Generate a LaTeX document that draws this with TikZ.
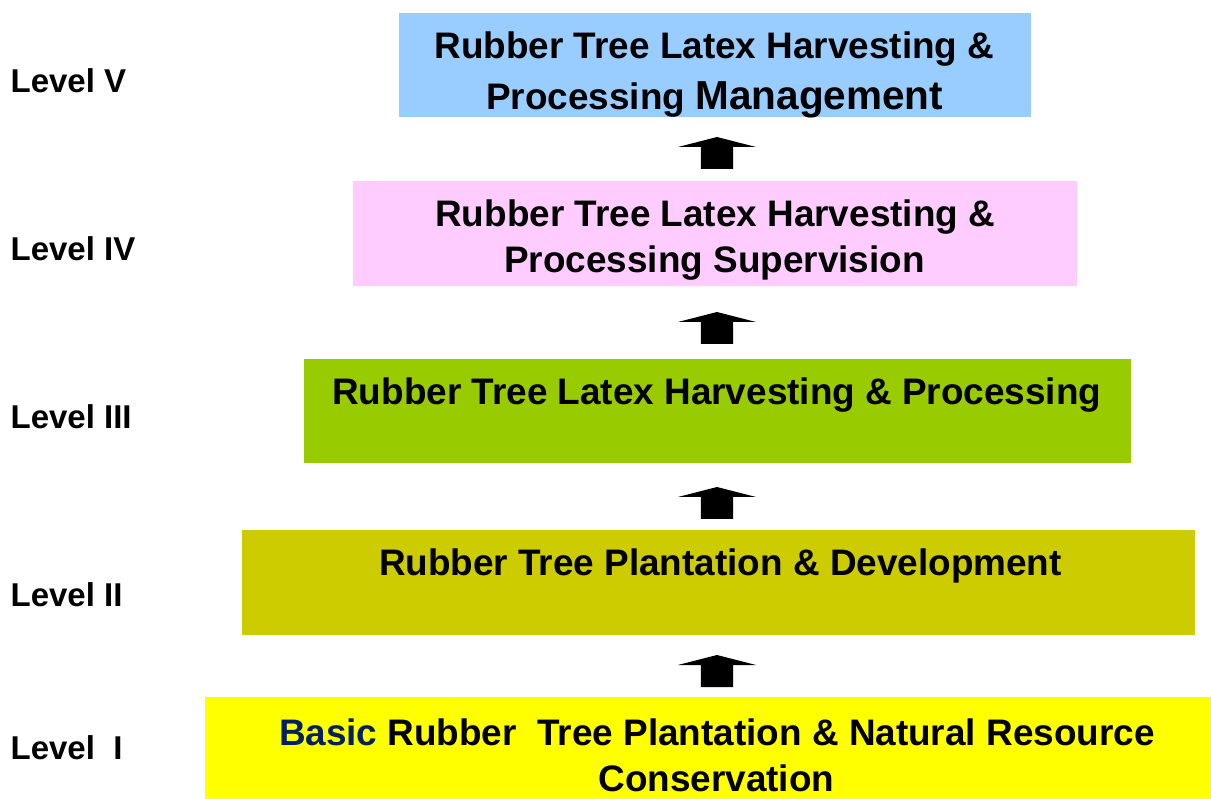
\documentclass[tikz,border=0pt]{standalone}
\usepackage{fontspec}
\setmainfont{Liberation Sans}
\definecolor{lvfive}{HTML}{99CCFF}
\definecolor{lvfour}{HTML}{FFCCFF}
\definecolor{lvthree}{HTML}{99CC00}
\definecolor{lvtwo}{HTML}{CCCC00}
\definecolor{lvone}{HTML}{FFFF00}
\definecolor{basicblue}{RGB}{0,32,96}
\begin{document}
\begin{tikzpicture}[x=1pt,y=-1pt,
  levelbox/.style={draw=none, inner sep=0pt, outer sep=0pt},
  boxtext/.style={inner sep=0pt, outer sep=0pt, anchor=base west,
    font=\fontsize{36.9}{44}\selectfont\bfseries},
  leveltext/.style={inner sep=0pt, outer sep=0pt, anchor=base west,
    font=\fontsize{33}{40}\selectfont\bfseries},
  uparrow/.pic={\fill[black] (-16.2,0) -- (-16.2,-22) -- (-39,-22) -- (0,-32)
     -- (39,-22) -- (16.2,-22) -- (16.2,0) -- cycle;}
]
\useasboundingbox (0,0) rectangle (1211,799);

% boxes
\node[levelbox, fill=lvfive, minimum width=632pt, minimum height=104pt] (b5) at (715,65) {};
\node[levelbox, fill=lvfour, minimum width=724pt, minimum height=105pt] (b4) at (715,233.5) {};
\node[levelbox, fill=lvthree, minimum width=827pt, minimum height=104pt] (b3) at (717.5,411) {};
\node[levelbox, fill=lvtwo, minimum width=953pt, minimum height=105pt] (b2) at (718.5,582.5) {};
\node[levelbox, fill=lvone, minimum width=1006pt, minimum height=102pt] (b1) at (708,748) {};

% box texts
\node[boxtext] (t5a) at (434.5,58.5) {Rubber Tree Latex Harvesting \&};
\node[boxtext] (t5b) at (486.3,110) {Processing {\fontsize{40.5}{44}\selectfont Management}};
\node[boxtext] (t4a) at (435.3,226.7) {Rubber Tree Latex Harvesting \&};
\node[boxtext] (t4b) at (504.3,272.7) {Processing Supervision};
\node[boxtext] (t3) at (332.3,405) {Rubber Tree Latex Harvesting \& Processing};
\node[boxtext] (t2) at (379,576) {Rubber Tree Plantation \& Development};
\node[boxtext] (t1a) at (279,745) {\textcolor{basicblue}{Basic} Rubber\ \ Tree Plantation \& Natural Resource};
\node[boxtext] (t1b) at (598.5,791) {Conservation};

% level labels
\node[leveltext] (l5) at (10.6,92.7) {Level V};
\node[leveltext] (l4) at (10.6,261) {Level IV};
\node[leveltext] (l3) at (10.6,429) {Level III};
\node[leveltext] (l2) at (10.6,606) {Level II};
\node[leveltext] (l1) at (10.6,759) {Level\ \ I};

% arrows
\coordinate (a54) at (717,169);
\coordinate (a43) at (717,344);
\coordinate (a32) at (717,519);
\coordinate (a21) at (717,687);
\pic at (a54) {uparrow};
\pic at (a43) {uparrow};
\pic at (a32) {uparrow};
\pic at (a21) {uparrow};
\end{tikzpicture}
\end{document}
